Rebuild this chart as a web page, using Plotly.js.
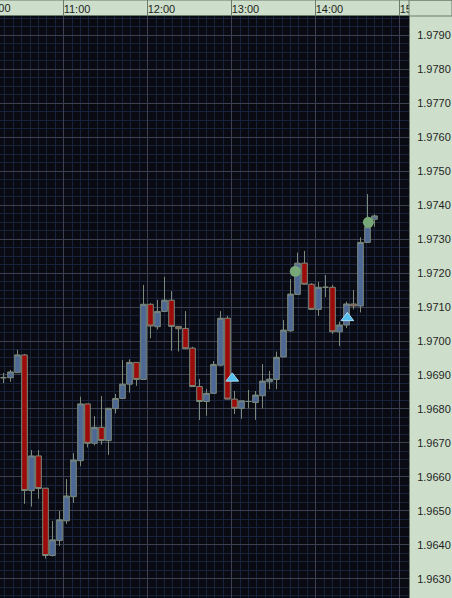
<!DOCTYPE html>
<html>
<head>
<meta charset="utf-8">
<script src="https://cdn.plot.ly/plotly-3.0.1.min.js"></script>
<style>
html,body{margin:0;padding:0;background:#cddfcb;}
#chart{width:452px;height:598px;}
</style>
</head>
<body>
<div id="chart"></div>
<script>
// ---- data (5-minute bars, open times) ----
const barTimes = ['10:15','10:20','10:25','10:30','10:35','10:40','10:45','10:50','10:55',
  '11:00','11:05','11:10','11:15','11:20','11:25','11:30','11:35','11:40','11:45','11:50','11:55',
  '12:00','12:05','12:10','12:15','12:20','12:25','12:30','12:35','12:40','12:45','12:50','12:55',
  '13:00','13:05','13:10','13:15','13:20','13:25','13:30','13:35','13:40','13:45','13:50','13:55',
  '14:00','14:05','14:10','14:15','14:20','14:25','14:30','14:35','14:40'];
const openVals = [1.96892,1.96892,1.96907,1.96959,1.96560,1.96662,1.96567,1.96369,1.96413,
  1.96471,1.96542,1.96648,1.96815,1.96699,1.96746,1.96707,1.96801,1.96831,1.96873,1.96937,1.96887,
  1.97108,1.97042,1.97087,1.97120,1.97043,1.97037,1.96979,1.96866,1.96822,1.96846,1.96929,1.97067,
  1.96829,1.96802,1.96822,1.96819,1.96839,1.96880,1.96887,1.96953,1.97030,1.97137,1.97229,1.97167,
  1.97093,1.97158,1.97158,1.97027,1.97047,1.97109,1.97103,1.97290,1.97358];
const highVals = [1.96906,1.96915,1.96974,1.96962,1.96679,1.96679,1.96567,1.96471,1.96500,
  1.96594,1.96670,1.96836,1.96815,1.96779,1.96838,1.96802,1.96844,1.96944,1.96946,1.96937,1.97165,
  1.97111,1.97121,1.97189,1.97147,1.97043,1.97088,1.96983,1.96888,1.96859,1.96941,1.97088,1.97074,
  1.96853,1.96824,1.96856,1.96853,1.96932,1.96912,1.96969,1.97062,1.97182,1.97260,1.97265,1.97170,
  1.97174,1.97194,1.97165,1.97057,1.97116,1.97150,1.97305,1.97432,1.97373];
const lowVals = [1.96876,1.96880,1.96907,1.96521,1.96513,1.96536,1.96360,1.96366,1.96397,
  1.96462,1.96524,1.96632,1.96687,1.96693,1.96695,1.96665,1.96787,1.96831,1.96848,1.96868,1.96887,
  1.97008,1.97034,1.97087,1.96971,1.96969,1.96977,1.96866,1.96768,1.96780,1.96846,1.96926,1.96829,
  1.96785,1.96771,1.96802,1.96768,1.96802,1.96858,1.96858,1.96953,1.97027,1.97137,1.97167,1.97093,
  1.97074,1.97129,1.97021,1.96985,1.97038,1.97093,1.97084,1.97290,1.97336];
const closeVals = [1.96892,1.96909,1.96959,1.96560,1.96662,1.96566,1.96369,1.96415,1.96474,
  1.96544,1.96650,1.96815,1.96699,1.96746,1.96707,1.96802,1.96831,1.96873,1.96937,1.96887,1.97108,
  1.97044,1.97087,1.97120,1.97043,1.97036,1.96977,1.96866,1.96822,1.96846,1.96931,1.97067,1.96829,
  1.96802,1.96824,1.96822,1.96841,1.96882,1.96888,1.96952,1.97032,1.97138,1.97229,1.97167,1.97093,
  1.97158,1.97158,1.97027,1.97047,1.97109,1.97103,1.97290,1.97336,1.97368];

// signal markers
const circleTimes = ['13:45:24','14:37:36'];
const circlePrices = [1.97205, 1.97349];
const triangleTimes = ['13:00:24','14:22:36'];
const trianglePrices = [1.96890, 1.97068];

// axis
const hourLabels = ['10:00','11:00','12:00','13:00','14:00','15:00'];
const priceTicks = [1.9630,1.9640,1.9650,1.9660,1.9670,1.9680,1.9690,1.9700,1.9710,1.9720,1.9730,1.9740,1.9750,1.9760,1.9770,1.9780,1.9790];
const xRange = ['10:14:30','15:06:38'];
const yRange = [1.96244, 1.97956];

// ---- helpers ----
const DAY = '2024-01-02 ';
function toDate(t, addMin) {
  const p = t.split(':').map(Number);
  const d = new Date(Date.UTC(2024,0,2,p[0],p[1],p[2]||0) + (addMin||0)*60000);
  const pad = n => String(n).padStart(2,'0');
  return d.getUTCFullYear()+'-'+pad(d.getUTCMonth()+1)+'-'+pad(d.getUTCDate())+' '+pad(d.getUTCHours())+':'+pad(d.getUTCMinutes())+':'+pad(d.getUTCSeconds());
}
function ms(t){ const p=t.split(':').map(Number); return Date.UTC(2024,0,2,p[0],p[1],p[2]||0); }

const BAR_CENTER = 2; // minutes from bar open to candle centre
const candleX = barTimes.map(t => toDate(t, BAR_CENTER));

const panel = '#cddfcb';
const border = '#6b7b6b';
const gridMajor = '#3b4150';
const gridMinor = '#18223a';
const wick = '#7b8a7b';

const traces = [
  {
    type:'candlestick', x:candleX, open:openVals, high:highVals, low:lowVals, close:closeVals,
    increasing:{line:{color:wick, width:1}, fillcolor:'#4e6896'},
    decreasing:{line:{color:wick, width:1}, fillcolor:'#9c0a0a'},
    whiskerwidth:0, hoverinfo:'skip', showlegend:false
  },
  {
    type:'scatter', mode:'markers', x:circleTimes.map(t=>toDate(t,0)), y:circlePrices,
    marker:{symbol:'circle', size:11, color:'#78a878', line:{width:0}},
    hoverinfo:'skip', showlegend:false
  },
  {
    type:'scatter', mode:'markers', x:triangleTimes.map(t=>toDate(t,0)), y:trianglePrices,
    marker:{symbol:'triangle-up', size:11, color:'#55bff0', line:{width:1, color:'#a6dcf5'}},
    hoverinfo:'skip', showlegend:false
  },
  { type:'scatter', mode:'markers', x:[], y:[], xaxis:'x2', yaxis:'y', hoverinfo:'skip', showlegend:false }
];

const r0 = ms(xRange[0]), r1 = ms(xRange[1]);
const plotW = 409, plotH = 582;

const tickFont = {family:'Liberation Sans, Arial, sans-serif', size:11, color:'#1e1e1e'};

const layout = {
  width:452, height:598,
  margin:{l:0, r:43, t:16, b:0, pad:0},
  paper_bgcolor:panel, plot_bgcolor:'#0a0a12',
  showlegend:false,
  boxgap:0.2, boxgroupgap:0,
  xaxis:{
    type:'date', range:xRange.map(t=>toDate(t,0)), side:'top', anchor:'y',
    tick0:toDate(hourLabels[0],0), dtick:3600000,
    ticks:'outside', ticklen:15, tickwidth:1, tickcolor:border,
    showticklabels:false,
    showgrid:true, gridcolor:gridMajor, gridwidth:1,
    minor:{dtick:360000, tick0:toDate(hourLabels[0],0), showgrid:true, gridcolor:gridMinor, gridwidth:1, ticks:''},
    showline:true, linecolor:border, linewidth:1,
    zeroline:false, fixedrange:true, rangeslider:{visible:false}
  },
  xaxis2:{
    type:'date', overlaying:'x', matches:'x', side:'top', anchor:'y',
    tick0:toDate(hourLabels[0],0), dtick:3600000, tickformat:'%H:%M',
    ticks:'', showgrid:false, showline:false, zeroline:false,
    ticklabelposition:'outside right', tickfont:tickFont, fixedrange:true
  },
  yaxis:{
    side:'right', range:yRange, tickmode:'array', tickvals:priceTicks, tickformat:'.4f',
    ticks:'outside', ticklen:5, tickcolor:'rgba(0,0,0,0)',
    tickfont:tickFont,
    showgrid:true, gridcolor:gridMajor, gridwidth:1,
    minor:{dtick:0.00025, tick0:1.963, showgrid:true, gridcolor:gridMinor, gridwidth:1, ticks:''},
    showline:true, linecolor:border, linewidth:1, zeroline:false, fixedrange:true
  },
  shapes:[
    {type:'rect', layer:'above', xref:'paper', yref:'paper', x0:1, x1:1+43/plotW, y0:1, y1:1+16/plotH,
     fillcolor:panel, line:{color:border, width:1}},
    {type:'line', layer:'above', xref:'paper', yref:'paper', x0:0, x1:1+43/plotW, y0:1+16/plotH, y1:1+16/plotH,
     line:{color:border, width:1}}
  ],
  annotations:[
    {xref:'paper', yref:'paper', x:(ms(hourLabels[0])-r0)/(r1-r0), y:1, xanchor:'left', yanchor:'bottom',
     text:hourLabels[0], showarrow:false, font:tickFont, xshift:1, yshift:0}
  ]
};

Plotly.newPlot('chart', traces, layout, {staticPlot:true, displayModeBar:false});
</script>
</body>
</html>
